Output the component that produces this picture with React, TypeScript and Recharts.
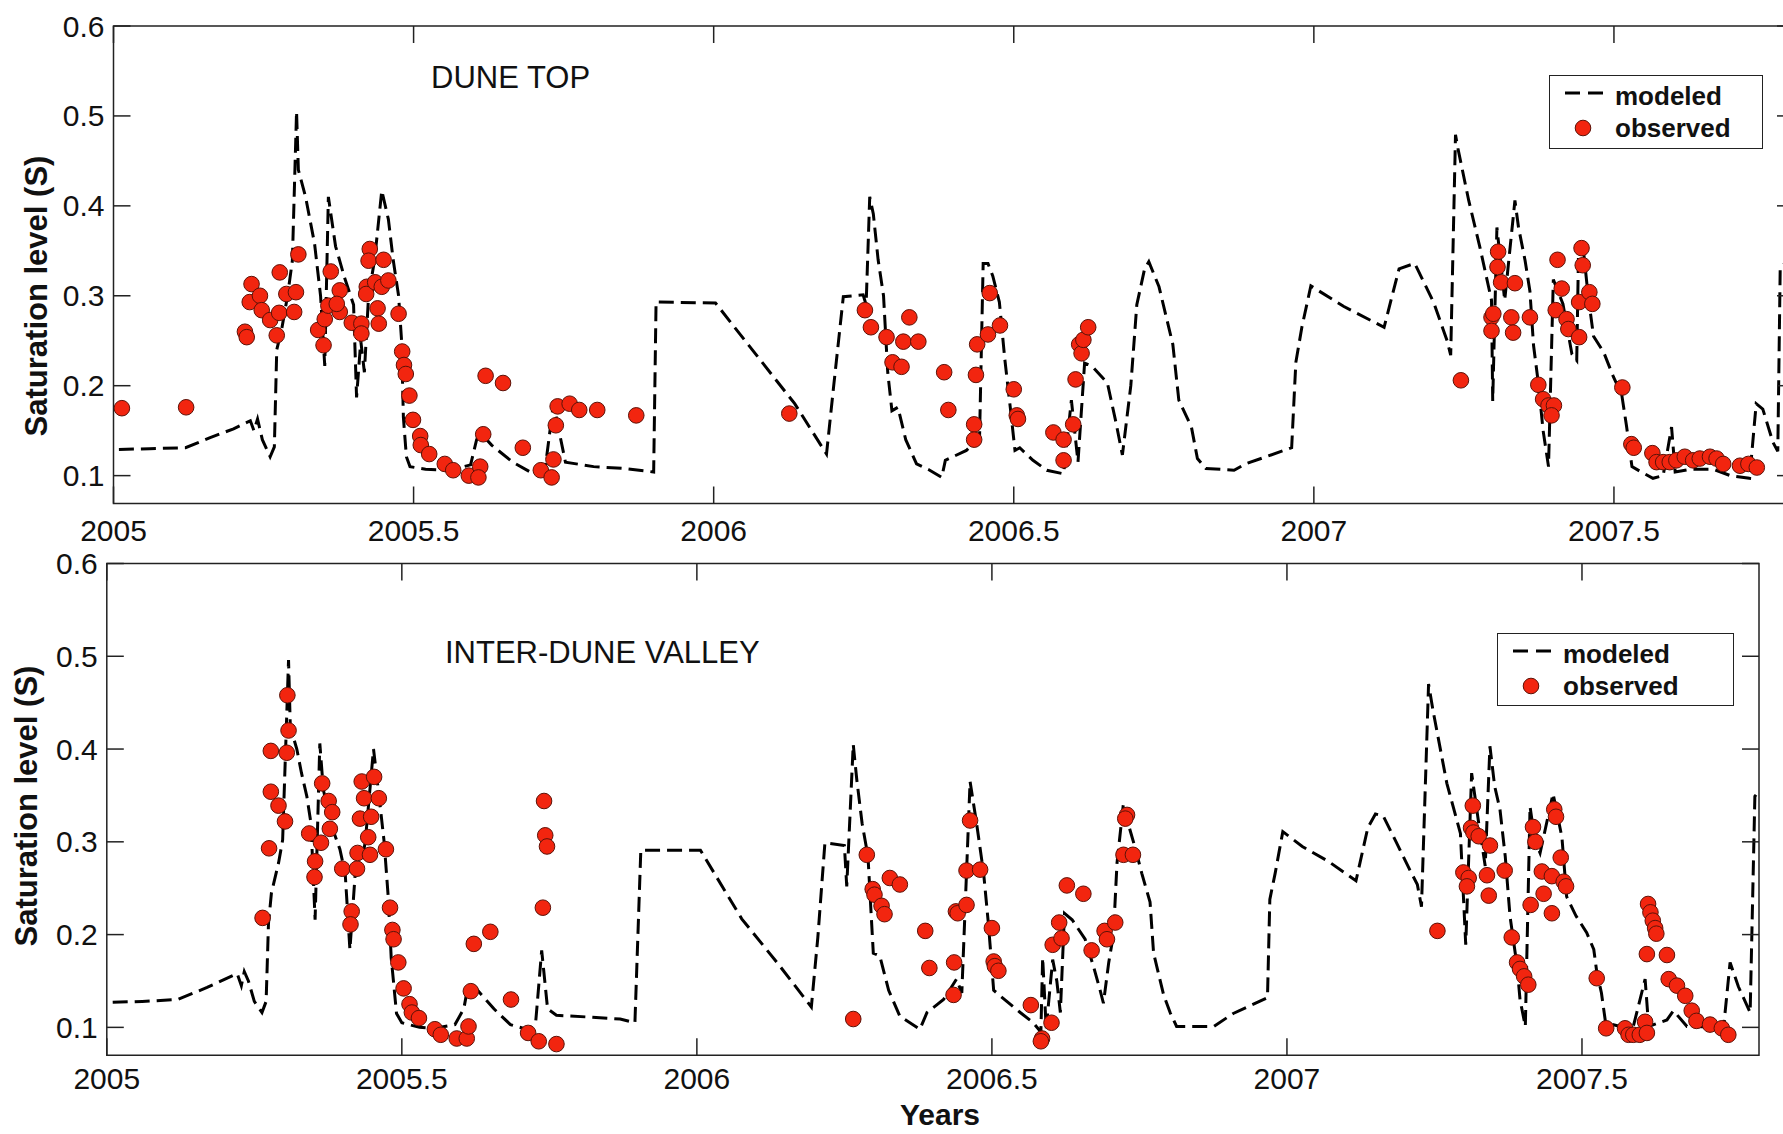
import { ComposedChart, Line, Scatter, XAxis, YAxis, ReferenceArea, Legend } from 'recharts'

const FONT       = '"Liberation Sans", Arial, Helvetica, sans-serif'
const INK        = '#111'
const FRAME      = '#222'
const DOT_FILL   = '#f2250f'
const DOT_STROKE = '#5c1208'
const TICK_LEN   = 17
const DASH       = '15 7'

type Pt = [number, number]

const X_DOMAIN: [number, number] = [2005, 2007.8]
const X_TICKS = [2005, 2005.5, 2006, 2006.5, 2007, 2007.5]
const Y_TICKS = [0.1, 0.2, 0.3, 0.4, 0.5, 0.6]
const LEGEND_LABELS = ['modeled', 'observed']

// dune top, modeled saturation (year, S)
const TOP_MODELED: Pt[] = [
  [2005.009,0.129],[2005.06,0.130],[2005.12,0.131],[2005.16,0.142],[2005.20,0.152],[2005.228,0.161],
  [2005.234,0.150],[2005.240,0.163],[2005.248,0.140],[2005.261,0.121],[2005.268,0.132],[2005.272,0.240],
  [2005.280,0.262],[2005.290,0.300],[2005.298,0.339],[2005.305,0.505],[2005.308,0.440],[2005.320,0.410],
  [2005.335,0.358],[2005.345,0.300],[2005.352,0.222],[2005.358,0.410],[2005.370,0.355],[2005.385,0.320],
  [2005.400,0.290],[2005.405,0.187],[2005.412,0.250],[2005.418,0.215],[2005.425,0.300],[2005.435,0.340],
  [2005.447,0.417],[2005.458,0.385],[2005.466,0.340],[2005.475,0.300],[2005.480,0.250],[2005.483,0.165],
  [2005.488,0.121],[2005.494,0.110],[2005.52,0.107],[2005.56,0.106],[2005.595,0.112],[2005.605,0.140],
  [2005.611,0.148],[2005.63,0.134],[2005.665,0.115],[2005.70,0.102],[2005.72,0.112],[2005.733,0.180],
  [2005.753,0.115],[2005.80,0.110],[2005.85,0.108],[2005.90,0.104],[2005.904,0.293],[2006.003,0.292],
  [2006.076,0.230],[2006.135,0.180],[2006.188,0.124],[2006.200,0.200],[2006.216,0.299],[2006.249,0.301],
  [2006.254,0.290],[2006.260,0.410],[2006.266,0.391],[2006.274,0.340],[2006.283,0.300],[2006.290,0.215],
  [2006.297,0.172],[2006.307,0.176],[2006.320,0.140],[2006.338,0.113],[2006.360,0.106],[2006.380,0.098],
  [2006.386,0.117],[2006.421,0.128],[2006.443,0.143],[2006.449,0.336],[2006.457,0.336],[2006.465,0.322],
  [2006.476,0.293],[2006.485,0.230],[2006.496,0.165],[2006.502,0.128],[2006.510,0.131],[2006.532,0.117],
  [2006.555,0.106],[2006.583,0.102],[2006.596,0.184],[2006.607,0.115],[2006.618,0.225],[2006.630,0.222],
  [2006.656,0.203],[2006.670,0.160],[2006.681,0.123],[2006.695,0.200],[2006.705,0.290],[2006.718,0.330],
  [2006.725,0.338],[2006.742,0.310],[2006.765,0.246],[2006.775,0.184],[2006.796,0.154],[2006.806,0.119],
  [2006.820,0.108],[2006.867,0.106],[2006.886,0.113],[2006.963,0.131],[2006.970,0.226],[2006.980,0.265],
  [2006.995,0.311],[2007.050,0.288],[2007.117,0.265],[2007.142,0.330],[2007.168,0.336],[2007.200,0.292],
  [2007.222,0.250],[2007.228,0.234],[2007.236,0.479],[2007.240,0.464],[2007.258,0.406],[2007.277,0.353],
  [2007.296,0.295],[2007.298,0.183],[2007.305,0.376],[2007.318,0.295],[2007.335,0.406],[2007.341,0.376],
  [2007.352,0.339],[2007.360,0.305],[2007.366,0.245],[2007.374,0.203],[2007.382,0.150],[2007.391,0.110],
  [2007.399,0.318],[2007.415,0.291],[2007.430,0.235],[2007.438,0.228],[2007.441,0.350],[2007.450,0.345],
  [2007.457,0.300],[2007.466,0.255],[2007.483,0.237],[2007.499,0.210],[2007.513,0.190],[2007.521,0.155],
  [2007.530,0.110],[2007.543,0.105],[2007.565,0.097],[2007.582,0.100],[2007.596,0.154],[2007.602,0.104],
  [2007.627,0.107],[2007.666,0.107],[2007.694,0.100],[2007.726,0.097],[2007.737,0.180],[2007.748,0.174],
  [2007.765,0.137],[2007.773,0.127],[2007.777,0.330],[2007.795,0.345],
]

// dune top, observed saturation
const TOP_OBSERVED: Pt[] = [
  [2005.014,0.175],[2005.121,0.176],[2005.219,0.260],[2005.222,0.254],[2005.230,0.313],[2005.227,0.293],
  [2005.244,0.300],[2005.247,0.284],[2005.261,0.273],[2005.276,0.281],[2005.272,0.256],[2005.277,0.326],
  [2005.288,0.302],[2005.304,0.304],[2005.301,0.282],[2005.308,0.346],[2005.341,0.262],[2005.350,0.245],
  [2005.352,0.274],[2005.358,0.289],[2005.362,0.327],[2005.377,0.306],[2005.377,0.282],[2005.372,0.291],
  [2005.397,0.270],[2005.413,0.269],[2005.413,0.258],[2005.427,0.352],[2005.425,0.339],[2005.450,0.340],
  [2005.422,0.310],[2005.421,0.302],[2005.436,0.315],[2005.447,0.310],[2005.458,0.317],[2005.440,0.286],
  [2005.442,0.269],[2005.475,0.280],[2005.481,0.238],[2005.484,0.223],[2005.487,0.213],[2005.493,0.189],
  [2005.499,0.162],[2005.511,0.144],[2005.512,0.134],[2005.526,0.124],[2005.552,0.113],[2005.566,0.106],
  [2005.592,0.100],[2005.611,0.110],[2005.608,0.098],[2005.616,0.146],[2005.620,0.211],[2005.649,0.203],
  [2005.682,0.131],[2005.712,0.106],[2005.730,0.098],[2005.733,0.118],[2005.737,0.156],[2005.740,0.177],
  [2005.760,0.180],[2005.776,0.173],[2005.806,0.173],[2005.871,0.167],[2006.126,0.169],[2006.252,0.284],
  [2006.262,0.265],[2006.288,0.254],[2006.326,0.276],[2006.316,0.249],[2006.341,0.249],[2006.298,0.226],
  [2006.313,0.221],[2006.384,0.215],[2006.391,0.173],[2006.437,0.212],[2006.439,0.246],[2006.457,0.257],
  [2006.477,0.267],[2006.460,0.303],[2006.434,0.157],[2006.434,0.140],[2006.500,0.196],[2006.505,0.167],
  [2006.507,0.163],[2006.566,0.148],[2006.583,0.140],[2006.583,0.117],[2006.599,0.157],[2006.603,0.207],
  [2006.609,0.246],[2006.613,0.236],[2006.616,0.251],[2006.624,0.265],[2007.245,0.206],[2007.307,0.349],
  [2007.306,0.332],[2007.312,0.315],[2007.335,0.314],[2007.296,0.276],[2007.299,0.280],[2007.296,0.261],
  [2007.329,0.276],[2007.332,0.259],[2007.360,0.276],[2007.374,0.201],[2007.382,0.185],[2007.391,0.178],
  [2007.400,0.178],[2007.396,0.167],[2007.406,0.340],[2007.413,0.308],[2007.403,0.284],[2007.421,0.274],
  [2007.424,0.263],[2007.442,0.254],[2007.442,0.293],[2007.446,0.353],[2007.448,0.334],[2007.459,0.304],
  [2007.464,0.291],[2007.514,0.198],[2007.529,0.135],[2007.533,0.131],[2007.564,0.125],[2007.571,0.115],
  [2007.582,0.115],[2007.593,0.115],[2007.604,0.117],[2007.618,0.121],[2007.632,0.117],[2007.643,0.119],
  [2007.660,0.121],[2007.671,0.119],[2007.682,0.113],[2007.710,0.111],[2007.724,0.113],[2007.738,0.109],
]

// inter-dune valley, modeled saturation
const VALLEY_MODELED: Pt[] = [
  [2005.010,0.127],[2005.06,0.128],[2005.12,0.130],[2005.17,0.143],[2005.221,0.158],[2005.228,0.145],
  [2005.233,0.160],[2005.240,0.150],[2005.250,0.128],[2005.263,0.116],[2005.270,0.128],[2005.274,0.212],
  [2005.279,0.245],[2005.291,0.277],[2005.298,0.302],[2005.308,0.496],[2005.311,0.424],[2005.322,0.400],
  [2005.330,0.374],[2005.339,0.349],[2005.346,0.320],[2005.353,0.216],[2005.361,0.406],[2005.367,0.356],
  [2005.381,0.317],[2005.395,0.292],[2005.404,0.266],[2005.412,0.184],[2005.421,0.266],[2005.430,0.270],
  [2005.438,0.300],[2005.452,0.400],[2005.463,0.340],[2005.470,0.300],[2005.477,0.240],[2005.482,0.175],
  [2005.491,0.115],[2005.50,0.105],[2005.53,0.100],[2005.556,0.099],[2005.590,0.103],[2005.605,0.120],
  [2005.612,0.144],[2005.623,0.144],[2005.656,0.120],[2005.684,0.103],[2005.717,0.097],[2005.727,0.107],
  [2005.737,0.183],[2005.747,0.120],[2005.762,0.113],[2005.82,0.111],[2005.87,0.109],[2005.895,0.105],
  [2005.905,0.291],[2006.006,0.291],[2006.076,0.217],[2006.137,0.169],[2006.194,0.122],[2006.205,0.197],
  [2006.217,0.299],[2006.250,0.296],[2006.254,0.252],[2006.265,0.405],[2006.271,0.367],[2006.280,0.320],
  [2006.290,0.284],[2006.299,0.180],[2006.310,0.177],[2006.325,0.140],[2006.344,0.112],[2006.378,0.098],
  [2006.390,0.116],[2006.418,0.130],[2006.440,0.152],[2006.449,0.137],[2006.463,0.365],[2006.474,0.320],
  [2006.486,0.266],[2006.494,0.212],[2006.503,0.140],[2006.514,0.134],[2006.548,0.116],[2006.570,0.105],
  [2006.583,0.095],[2006.586,0.175],[2006.592,0.099],[2006.603,0.173],[2006.610,0.150],[2006.616,0.116],
  [2006.623,0.223],[2006.636,0.216],[2006.658,0.195],[2006.672,0.166],[2006.683,0.141],[2006.689,0.126],
  [2006.698,0.170],[2006.706,0.200],[2006.712,0.277],[2006.723,0.342],[2006.733,0.315],[2006.743,0.293],
  [2006.754,0.266],[2006.768,0.235],[2006.774,0.180],[2006.791,0.135],[2006.802,0.116],[2006.813,0.101],
  [2006.876,0.101],[2006.909,0.115],[2006.967,0.132],[2006.971,0.238],[2006.980,0.266],[2006.993,0.311],
  [2007.026,0.295],[2007.07,0.279],[2007.117,0.258],[2007.137,0.315],[2007.150,0.330],[2007.163,0.328],
  [2007.185,0.300],[2007.208,0.270],[2007.221,0.254],[2007.228,0.230],[2007.240,0.470],[2007.248,0.440],
  [2007.271,0.363],[2007.294,0.309],[2007.303,0.189],[2007.313,0.374],[2007.325,0.320],[2007.336,0.274],
  [2007.344,0.403],[2007.352,0.360],[2007.361,0.335],[2007.370,0.284],[2007.378,0.220],[2007.390,0.166],
  [2007.395,0.130],[2007.404,0.101],[2007.412,0.338],[2007.420,0.302],[2007.429,0.288],[2007.451,0.352],
  [2007.466,0.305],[2007.474,0.241],[2007.490,0.220],[2007.508,0.202],[2007.520,0.184],[2007.525,0.160],
  [2007.533,0.137],[2007.540,0.105],[2007.565,0.101],[2007.587,0.101],[2007.607,0.152],[2007.613,0.101],
  [2007.644,0.108],[2007.655,0.118],[2007.678,0.101],[2007.740,0.100],[2007.751,0.170],[2007.765,0.144],
  [2007.785,0.116],[2007.793,0.349],[2007.800,0.355],
]

// inter-dune valley, observed saturation
const VALLEY_OBSERVED: Pt[] = [
  [2005.264,0.218],[2005.275,0.293],[2005.278,0.354],[2005.291,0.339],[2005.302,0.322],[2005.278,0.398],
  [2005.305,0.396],[2005.308,0.420],[2005.306,0.458],[2005.343,0.309],[2005.353,0.279],[2005.352,0.262],
  [2005.363,0.299],[2005.365,0.363],[2005.376,0.344],[2005.382,0.332],[2005.378,0.314],[2005.399,0.271],
  [2005.415,0.225],[2005.413,0.211],[2005.424,0.271],[2005.425,0.288],[2005.432,0.365],[2005.436,0.347],
  [2005.429,0.325],[2005.448,0.327],[2005.443,0.305],[2005.446,0.286],[2005.453,0.370],[2005.461,0.347],
  [2005.473,0.292],[2005.480,0.229],[2005.484,0.205],[2005.486,0.195],[2005.494,0.170],[2005.503,0.142],
  [2005.513,0.125],[2005.517,0.116],[2005.529,0.110],[2005.556,0.098],[2005.566,0.092],[2005.593,0.088],
  [2005.610,0.088],[2005.613,0.101],[2005.617,0.139],[2005.622,0.190],[2005.650,0.203],[2005.685,0.130],
  [2005.714,0.094],[2005.732,0.085],[2005.741,0.344],[2005.743,0.307],[2005.746,0.295],[2005.739,0.229],
  [2005.762,0.082],[2006.265,0.109],[2006.288,0.286],[2006.298,0.249],[2006.301,0.243],[2006.313,0.231],
  [2006.318,0.222],[2006.327,0.261],[2006.344,0.254],[2006.387,0.204],[2006.394,0.164],[2006.435,0.135],
  [2006.436,0.170],[2006.439,0.225],[2006.442,0.223],[2006.457,0.232],[2006.457,0.269],[2006.480,0.270],
  [2006.463,0.323],[2006.500,0.207],[2006.503,0.171],[2006.505,0.166],[2006.511,0.161],[2006.566,0.124],
  [2006.585,0.088],[2006.583,0.085],[2006.601,0.105],[2006.603,0.189],[2006.614,0.213],[2006.618,0.196],
  [2006.627,0.253],[2006.655,0.244],[2006.669,0.183],[2006.691,0.204],[2006.695,0.195],[2006.709,0.213],
  [2006.723,0.286],[2006.739,0.286],[2006.729,0.329],[2006.726,0.325],[2007.255,0.204],[2007.315,0.339],
  [2007.312,0.315],[2007.316,0.310],[2007.325,0.306],[2007.344,0.296],[2007.299,0.267],[2007.308,0.261],
  [2007.305,0.252],[2007.339,0.264],[2007.342,0.242],[2007.369,0.269],[2007.381,0.197],[2007.390,0.170],
  [2007.395,0.163],[2007.402,0.155],[2007.409,0.146],[2007.417,0.316],[2007.421,0.300],[2007.453,0.335],
  [2007.456,0.327],[2007.464,0.283],[2007.432,0.268],[2007.449,0.263],[2007.469,0.257],[2007.473,0.252],
  [2007.435,0.244],[2007.413,0.232],[2007.449,0.223],[2007.525,0.153],[2007.541,0.099],[2007.573,0.099],
  [2007.579,0.092],[2007.587,0.092],[2007.598,0.092],[2007.607,0.106],[2007.610,0.094],[2007.612,0.233],
  [2007.616,0.224],[2007.620,0.215],[2007.624,0.207],[2007.626,0.201],[2007.610,0.179],[2007.644,0.178],
  [2007.647,0.152],[2007.661,0.145],[2007.675,0.134],[2007.686,0.118],[2007.694,0.107],[2007.717,0.103],
  [2007.737,0.099],[2007.748,0.092],
]

const toRows = (pts: Pt[]) => pts.map(([x, s]) => ({ x, s }))

function Dot(props: { cx?: number; cy?: number }) {
  const { cx = 0, cy = 0 } = props
  return <circle cx={cx} cy={cy} r={7.8} fill={DOT_FILL} stroke={DOT_STROKE} strokeWidth={1} />
}

function LegendBox({ width, height }: { width: number; height: number }) {
  return (
    <div style={{ width, height, boxSizing: 'border-box', border: `1.5px solid ${FRAME}`, background: '#fff' }}>
      <svg width={width - 3} height={height - 3} style={{ display: 'block' }}>
        <line x1={15} x2={53} y1={17} y2={17} stroke="#000" strokeWidth={3} strokeDasharray="15 8" />
        <circle cx={33} cy={52} r={7.8} fill={DOT_FILL} stroke={DOT_STROKE} strokeWidth={1} />
        {LEGEND_LABELS.map((label, i) => (
          <text key={label} x={65} y={i === 0 ? 28.5 : 61} fontFamily={FONT} fontSize={26}
            fontWeight="bold" fill={INK}>
            {label}
          </text>
        ))}
      </svg>
    </div>
  )
}

interface PanelProps {
  top: number
  width: number
  height: number
  margin: { top: number; right: number; bottom: number; left: number }
  yAxisWidth: number
  xAxisHeight: number
  yMin: number
  modeled: Pt[]
  observed: Pt[]
  title: string
  titleX: number
  titleBaseline: number
  legend: { left: number; top: number; width: number; height: number }
  yLabelX: number
  yLabelY: number
  xTickGap: number
  xLabel?: { text: string; x: number; baseline: number }
}

function Panel(p: PanelProps) {
  const plotTop   = p.margin.top
  const plotRight = p.width - p.margin.right
  const modeled   = toRows(p.modeled)
  const observed  = toRows(p.observed)

  return (
    <div style={{ position: 'absolute', left: 0, top: p.top, width: p.width, height: p.height }}>
      <ComposedChart width={p.width} height={p.height} margin={p.margin}>
        <XAxis
          type="number" dataKey="x" domain={X_DOMAIN} allowDataOverflow ticks={X_TICKS} interval={0}
          height={p.xAxisHeight} axisLine={false} tickLine={false} tickSize={0} tickMargin={0}
          tick={(t: any) => (
            <g>
              <line x1={t.x} x2={t.x} y1={t.y} y2={t.y - TICK_LEN} stroke={FRAME} strokeWidth={1.5} />
              <line x1={t.x} x2={t.x} y1={plotTop} y2={plotTop + TICK_LEN} stroke={FRAME} strokeWidth={1.5} />
              <text x={t.x} y={t.y + p.xTickGap} textAnchor="middle" fontFamily={FONT} fontSize={30} fill={INK}>
                {t.payload.value}
              </text>
            </g>
          )}
          label={p.xLabel ? {
            content: () => (
              <text x={p.xLabel!.x} y={p.xLabel!.baseline} textAnchor="middle" fontFamily={FONT}
                fontSize={30} fontWeight="bold" fill={INK}>
                {p.xLabel!.text}
              </text>
            ),
          } : undefined}
        />
        <YAxis
          type="number" dataKey="s" domain={[p.yMin, 0.6]} allowDataOverflow ticks={Y_TICKS} interval={0}
          width={p.yAxisWidth} axisLine={false} tickLine={false} tickSize={0} tickMargin={0}
          tick={(t: any) => (
            <g>
              <line x1={t.x} x2={t.x + TICK_LEN} y1={t.y} y2={t.y} stroke={FRAME} strokeWidth={1.5} />
              <line x1={plotRight - TICK_LEN} x2={plotRight} y1={t.y} y2={t.y} stroke={FRAME} strokeWidth={1.5} />
              <text x={t.x - 9} y={t.y + 10.5} textAnchor="end" fontFamily={FONT} fontSize={30} fill={INK}>
                {t.payload.value}
              </text>
            </g>
          )}
          label={{
            content: () => (
              <text transform={`translate(${p.yLabelX},${p.yLabelY}) rotate(-90)`} textAnchor="middle"
                dominantBaseline="central" fontFamily={FONT} fontSize={31} fontWeight="bold" fill={INK}>
                Saturation level (S)
              </text>
            ),
          }}
        />
        <ReferenceArea
          x1={X_DOMAIN[0]} x2={X_DOMAIN[1]} y1={p.yMin} y2={0.6}
          fill="none" stroke={FRAME} strokeWidth={1.5} fillOpacity={0} ifOverflow="visible"
        />
        <Legend
          layout="horizontal" verticalAlign="middle" align="center"
          wrapperStyle={{ left: p.legend.left, top: p.legend.top, width: p.legend.width, height: p.legend.height }}
          content={() => <LegendBox width={p.legend.width} height={p.legend.height} />}
        />
        <Scatter name="observed" data={observed} dataKey="s" shape={<Dot />} isAnimationActive={false} />
        <Line
          name="modeled" data={modeled} dataKey="s" type="linear" stroke="#000" strokeWidth={3}
          strokeDasharray={DASH} dot={false} activeDot={false} isAnimationActive={false}
        />
      </ComposedChart>
      <div style={{
        position: 'absolute', left: p.titleX, top: p.titleBaseline - 26.2,
        fontFamily: FONT, fontSize: 31, lineHeight: '31px', color: INK, whiteSpace: 'nowrap',
      }}>
        {p.title}
      </div>
    </div>
  )
}

export default function App() {
  return (
    <div style={{
      position: 'fixed', left: 0, top: 0, width: 1783, height: 1134,
      overflow: 'hidden', background: '#fff', fontFamily: FONT,
    }}>
      <Panel
        top={0} width={1800} height={560}
        margin={{ top: 26, right: 6, bottom: 0, left: 0 }}
        yAxisWidth={113.5} xAxisHeight={56.5} yMin={0.069}
        modeled={TOP_MODELED} observed={TOP_OBSERVED}
        title="DUNE TOP" titleX={431} titleBaseline={88}
        legend={{ left: 1549, top: 75, width: 214, height: 74 }}
        yLabelX={36} yLabelY={296} xTickGap={37}
      />
      <Panel
        top={540} width={1783} height={594}
        margin={{ top: 23.5, right: 24, bottom: 0, left: 0 }}
        yAxisWidth={106.8} xAxisHeight={78.8} yMin={0.07}
        modeled={VALLEY_MODELED} observed={VALLEY_OBSERVED}
        title="INTER-DUNE VALLEY" titleX={445} titleBaseline={123}
        legend={{ left: 1497, top: 93, width: 237, height: 73 }}
        yLabelX={26} yLabelY={266} xTickGap={34}
        xLabel={{ text: 'Years', x: 940, baseline: 585 }}
      />
    </div>
  )
}
